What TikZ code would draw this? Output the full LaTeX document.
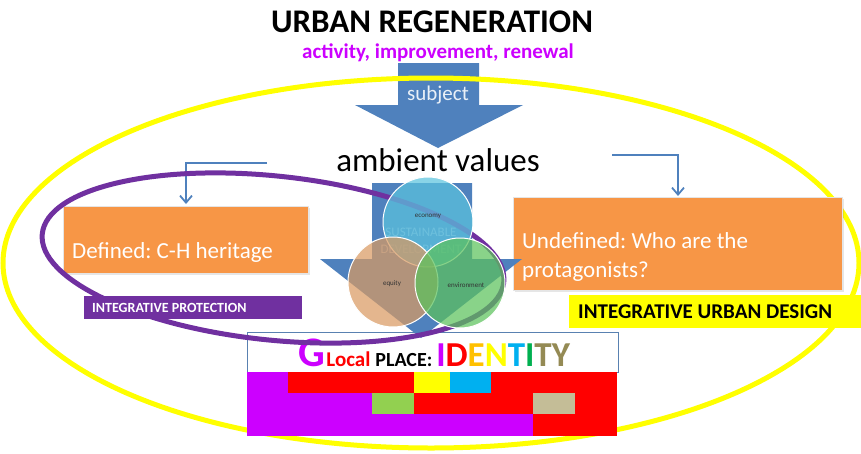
\documentclass[tikz,border=0pt]{standalone}
\usepackage{fontspec}
\setmainfont{Carlito}
\usepackage{tikz}
\usetikzlibrary{arrows.meta,shadows}
\frenchspacing

\definecolor{urbanBlue}{HTML}{4F81BD}
\definecolor{boxOrange}{HTML}{F79646}
\definecolor{protPurple}{HTML}{7030A0}
\definecolor{glocalPurple}{HTML}{CC00FF}
\definecolor{designYellow}{HTML}{FFFF00}
\definecolor{cellCyan}{HTML}{00B0F0}
\definecolor{cellGreen}{HTML}{92D050}
\definecolor{cellTan}{HTML}{C4BD97}
\definecolor{idOrange}{HTML}{FFC000}
\definecolor{idGreen}{HTML}{00B050}
\definecolor{idKhaki}{HTML}{948A54}
\definecolor{economyBlue}{HTML}{5BC3DE}
\definecolor{equityTan}{HTML}{D99A62}
\definecolor{envGreen}{HTML}{5CC25C}

\begin{document}
\begin{tikzpicture}[x=1pt, y=-1pt]
            \tikzstyle{orangeBox} = [rectangle, fill=boxOrange, draw=white!80!gray, line width=1pt,
                                     inner sep=0pt, anchor=north west,
                                     drop shadow={shadow xshift=1.2pt, shadow yshift=-1.2pt, opacity=0.2}]
            \tikzstyle{boxText} = [text=white, font=\fontsize{23}{29}\selectfont, align=left, inner sep=0pt]
            \tikzstyle{bentArrow} = [draw=urbanBlue, line width=1.8pt, -{Straight Barb[length=7pt,width=12pt]}]
            \tikzstyle{ringCircle} = [circle, minimum size=90pt, inner sep=0pt, draw=white, line width=1pt, fill opacity=0.72]
            \tikzstyle{tinyText} = [font=\fontsize{7}{8}\selectfont, text=black!80, inner sep=0pt]
            \useasboundingbox (0,0) rectangle (861,453);

            % title
            \node[font=\bfseries\fontsize{33}{36}\selectfont] (title) at (432,22) {URBAN REGENERATION};
            \node[font=\bfseries\fontsize{21}{24}\selectfont, text=glocalPurple] (subtitle) at (438,53)
                {activity, improvement, renewal};

            % subject arrow
            \fill[urbanBlue] (398,63) -- (479,63) -- (479,105) -- (523,105) -- (438,148)
                -- (355,105) -- (398,105) -- cycle;
            \node[text=white!88!urbanBlue, font=\fontsize{21}{24}\selectfont] (subject) at (438,95) {subject};

            % outer ring
            \draw[designYellow, line width=5pt] (431,263) ellipse [x radius=428, y radius=185];

            \node[font=\fontsize{33}{36}\selectfont] (ambient) at (438,160) {ambient values};

            % boxes
            \node[orangeBox, minimum width=245pt, minimum height=67pt] (defined) at (63,206) {};
            \node[boxText, anchor=base west] (definedText) at (72,258) {Defined: C-H heritage};
            \node[orangeBox, minimum width=329pt, minimum height=93pt] (undefined) at (513,197) {};
            \node[boxText, anchor=base west] (undefinedText) at (522,277) {Undefined: Who are the\\protagonists?};

            \coordinate (leftStart) at (267,163);
            \coordinate (leftTip) at (186,204);
            \coordinate (rightStart) at (612,155);
            \coordinate (rightTip) at (678,196);
            \draw[bentArrow] (leftStart) -| (leftTip);
            \draw[bentArrow] (rightStart) -| (rightTip);

            \node[rectangle, fill=designYellow, anchor=north west, minimum width=292pt, minimum height=33pt,
                  inner sep=0pt] (design) at (569,295) {};
            \node[anchor=west, font=\bfseries\fontsize{21}{22}\selectfont, inner sep=0pt]
                (designText) at (578,312) {INTEGRATIVE URBAN DESIGN};

            % identity
            \node[rectangle, draw=urbanBlue!80!gray, line width=1.2pt, fill=white, anchor=north west,
                  minimum width=371pt, minimum height=40pt, inner sep=0pt] (identity) at (247,332) {};
            \foreach \xa/\xb/\ya/\yb/\col in {247/288/372/393/glocalPurple, 288/414/372/393/red,
                                              414/450/372/393/designYellow, 450/491/372/393/cellCyan,
                                              491/617/372/393/red,
                                              247/372/393/414/glocalPurple, 372/414/393/414/cellGreen,
                                              414/533/393/414/red, 533/575/393/414/cellTan,
                                              575/617/393/414/red,
                                              247/533/414/436/glocalPurple, 533/617/414/436/red}
                \fill[\col] (\xa,\ya) rectangle (\xb,\yb);
            \node[anchor=base, inner sep=0pt, font=\bfseries] (identityText) at (434,366)
                {{\fontsize{42}{42}\selectfont\color{glocalPurple}G}\,{\fontsize{21}{21}\selectfont\color{red}Local}\hspace{5pt}%
                 {\fontsize{20}{20}\selectfont PLACE:}\hspace{4pt}%
                 {\fontsize{35}{35}\selectfont\color{glocalPurple}I\color{red}D\color{idOrange}E\color{designYellow}N\color{cellCyan}T\color{idGreen}I\color{idKhaki}TY}};

            % sustainable development
            \fill[urbanBlue] (372,183) -- (472,183) -- (472,259) -- (522,259) -- (421,338)
                -- (320,259) -- (372,259) -- cycle;
            \node[text=white, opacity=0.45, font=\fontsize{13}{17}\selectfont, align=center] (sustain) at (421,241)
                {SUSTAINABLE\\DEVELOPMENT};

            \draw[protPurple, line width=5pt] (273,258) ellipse [x radius=232, y radius=82, rotate=-6];

            \node[rectangle, fill=protPurple, anchor=north west, minimum width=218pt, minimum height=23pt,
                  inner sep=0pt] (protection) at (84,296) {};
            \node[anchor=west, text=white, font=\bfseries\fontsize{14}{15}\selectfont, inner sep=0pt]
                (protectionText) at (92,307.5) {INTEGRATIVE PROTECTION};

            \node[ringCircle, fill=economyBlue] (economy) at (428,222) {};
            \node[ringCircle, fill=equityTan] (equity) at (393,282) {};
            \node[ringCircle, fill=envGreen] (environment) at (460,283) {};
            \node[tinyText] (economyText) at (428,216) {economy};
            \node[tinyText] (equityText) at (392,284) {equity};
            \node[tinyText] (environmentText) at (466,285) {environment};
\end{tikzpicture}
\end{document}
